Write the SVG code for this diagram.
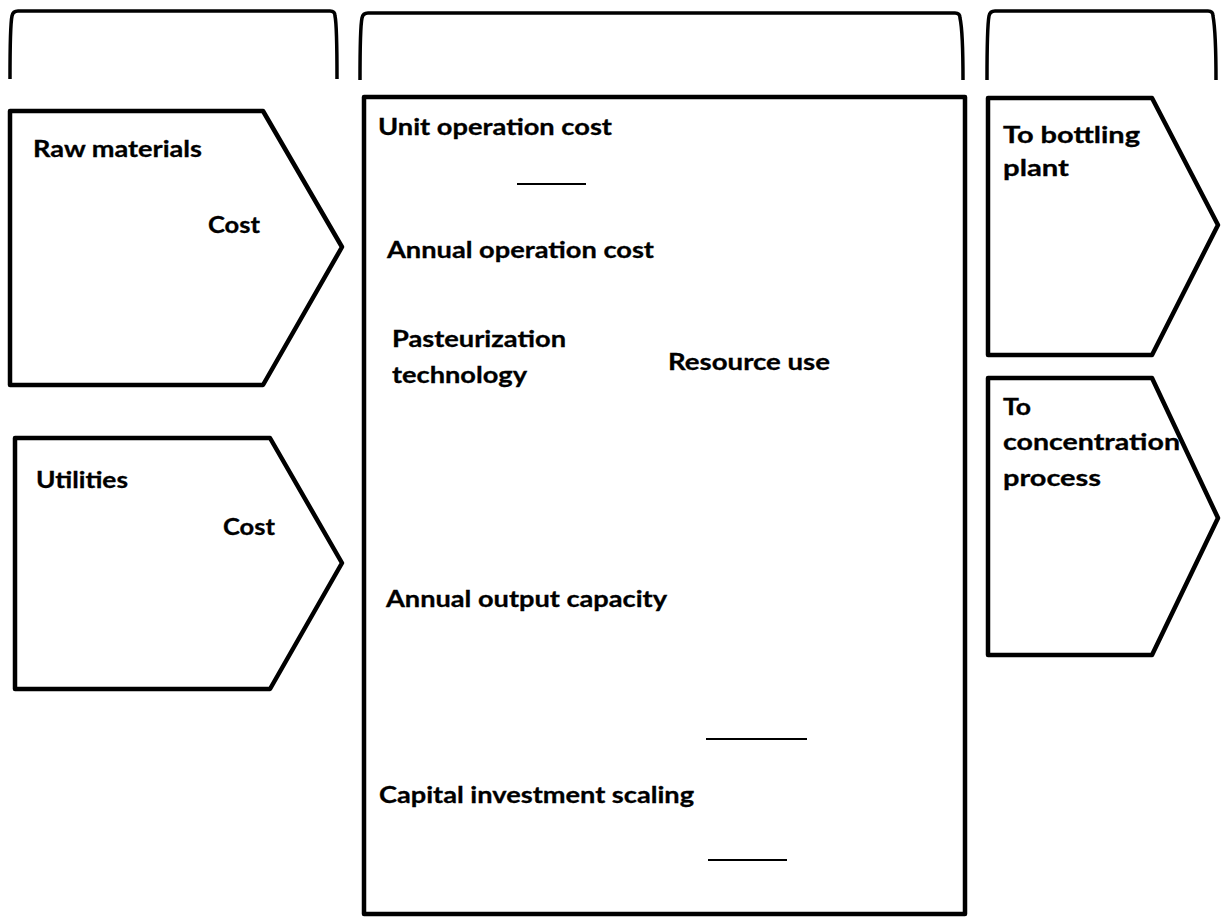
<svg xmlns="http://www.w3.org/2000/svg" width="1223" height="923" viewBox="0 0 1223 923">
<style>
.shape{fill:#fff;stroke:#000;stroke-width:4.5;stroke-linejoin:round}
.br{fill:none;stroke:#000;stroke-width:3.5;stroke-linejoin:round}
.ln{stroke:#000;stroke-width:2}
text{font-family:Lato,"Open Sans","Liberation Sans",sans-serif;font-weight:700;font-size:22px;fill:#000;stroke:#000;stroke-width:0.3}
</style>
<rect width="1223" height="923" fill="#fff"/>
<g id="brackets">
<path class="br" d="M10,79 C10,45 10,25 12,16 Q13,11 18,11 L330,11 Q335,11 335,16 C337,25 337,45 337,79"/>
<path class="br" d="M360,80 C360,47 360,27 362,18 Q363,13 368,13 L955,13 Q960,13 960,18 C962,27 963,47 963,80"/>
<path class="br" d="M987,80 C987,47 987,27 989,16 Q990,11 995,11 L1208,11 Q1213,11 1213,16 C1215,27 1216,47 1216,80"/>
</g>
<g id="raw-materials">
<polygon class="shape" points="10,111 263,111 342,247 263,385 10,385"/>
<text x="33" y="157" textLength="169" lengthAdjust="spacingAndGlyphs">Raw materials</text>
<text x="208" y="233" textLength="52" lengthAdjust="spacingAndGlyphs">Cost</text>
</g>
<g id="utilities">
<polygon class="shape" points="15,438 270,438 342,563 270,689 15,689"/>
<text x="36" y="488" textLength="92" lengthAdjust="spacingAndGlyphs">Utilities</text>
<text x="223" y="535" textLength="52" lengthAdjust="spacingAndGlyphs">Cost</text>
</g>
<g id="process">
<rect class="shape" x="364" y="97" width="601" height="817"/>
<text x="378" y="135" textLength="234" lengthAdjust="spacingAndGlyphs">Unit operation cost</text>
<text x="387" y="258" textLength="267" lengthAdjust="spacingAndGlyphs">Annual operation cost</text>
<text x="392" y="347" textLength="174" lengthAdjust="spacingAndGlyphs">Pasteurization</text>
<text x="392" y="383" textLength="135" lengthAdjust="spacingAndGlyphs">technology</text>
<text x="668" y="370" textLength="162" lengthAdjust="spacingAndGlyphs">Resource use</text>
<text x="386" y="607" textLength="281" lengthAdjust="spacingAndGlyphs">Annual output capacity</text>
<text x="379" y="803" textLength="315" lengthAdjust="spacingAndGlyphs">Capital investment scaling</text>
</g>
<g id="connectors">
<line class="ln" x1="517" y1="184" x2="586" y2="184"/>
<line class="ln" x1="706" y1="739" x2="807" y2="739"/>
<line class="ln" x1="708" y1="860" x2="787" y2="860"/>
</g>
<g id="to-bottling">
<polygon class="shape" points="988,98 1152,98 1218,225 1152,355 988,355"/>
<text x="1003" y="143" textLength="137" lengthAdjust="spacingAndGlyphs">To bottling</text>
<text x="1003" y="176" textLength="66" lengthAdjust="spacingAndGlyphs">plant</text>
</g>
<g id="to-concentration">
<polygon class="shape" points="988,378 1152,378 1218,518 1152,655 988,655"/>
<text x="1003" y="415" textLength="28" lengthAdjust="spacingAndGlyphs">To</text>
<text x="1003" y="450" textLength="177" lengthAdjust="spacingAndGlyphs">concentration</text>
<text x="1003" y="486" textLength="98" lengthAdjust="spacingAndGlyphs">process</text>
</g>
</svg>
